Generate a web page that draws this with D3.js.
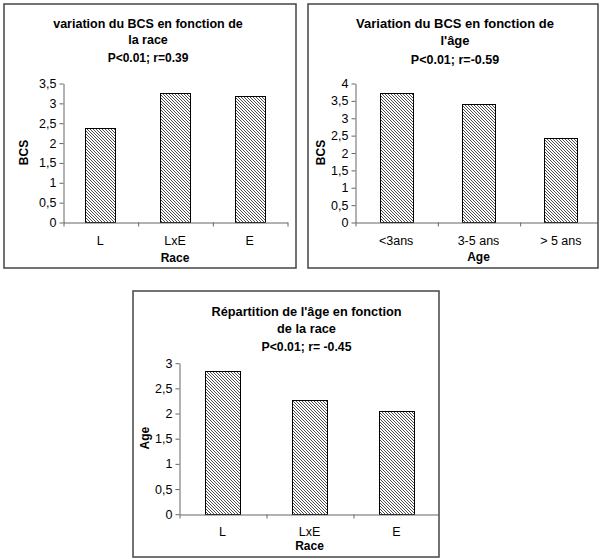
<!DOCTYPE html>
<html>
<head>
<meta charset="utf-8">
<script src="https://cdn.jsdelivr.net/npm/d3@7"></script>
<style>
  body { margin: 0; background: #fff; }
  svg { display: block; font-family: "Liberation Sans", Arial, sans-serif; }
</style>
</head>
<body>
<div id="chart"></div>
<script>
// Data
var raceCats = ["L", "LxE", "E"];
var ageCats = ["<3ans", "3-5 ans", "> 5 ans"];

var bcsByRace = [2.36, 3.24, 3.18];
var bcsByAge = [3.72, 3.40, 2.43];
var ageByRace = [2.84, 2.25, 2.04];

var ticksBcsRace = [0, 0.5, 1, 1.5, 2, 2.5, 3, 3.5];
var ticksBcsAge = [0, 0.5, 1, 1.5, 2, 2.5, 3, 3.5, 4];
var ticksAgeRace = [0, 0.5, 1, 1.5, 2, 2.5, 3];

var title1 = ["variation du BCS en fonction de", "la race", "P<0.01; r=0.39"];
var title2 = ["Variation du BCS en fonction de", "l'âge", "P<0.01; r=-0.59"];
var title3 = ["Répartition de l'âge en fonction", "de la race", "P<0.01; r= -0.45"];

// Layout of each panel (pixel boxes measured on the picture)
var panels = [
  { cats: raceCats, vals: bcsByRace, ticks: ticksBcsRace, title: title1,
    xLab: "Race", yLab: "BCS",
    box: [4, 4, 296, 268], plot: { x0: 63, x1: 287, y0: 222, y1: 83 },
    titleX: 148, titleY: [27.5, 43.5, 61.5], titleSize: 12.5,
    catY: 244.5, xTitleY: 261.5, yTitleX: 24 },
  { cats: ageCats, vals: bcsByAge, ticks: ticksBcsAge, title: title2,
    xLab: "Age", yLab: "BCS",
    box: [308, 4, 598, 268], plot: { x0: 355, x1: 602, y0: 222, y1: 83 },
    titleX: 455, titleY: [27.5, 44.5, 64], titleSize: 13,
    catY: 244.5, xTitleY: 261, yTitleX: 321 },
  { cats: raceCats, vals: ageByRace, ticks: ticksAgeRace, title: title3,
    xLab: "Race", yLab: "Age",
    box: [133, 291, 439, 557], plot: { x0: 179, x1: 440, y0: 513.7, y1: 362.7 },
    titleX: 306.5, titleY: [315.5, 332.5, 350.5], titleSize: 12.75,
    catY: 536, xTitleY: 549.5, yTitleX: 145 }
];

var W = 601, H = 559;
var svg = d3.select("#chart").append("svg")
  .attr("width", W)
  .attr("height", H);

// hatch fill used by every bar (fine downward diagonal)
var defs = svg.append("defs");
var pat = defs.append("pattern")
  .attr("id", "hatch")
  .attr("patternUnits", "userSpaceOnUse")
  .attr("width", 3)
  .attr("height", 3);
pat.append("rect").attr("width", 3).attr("height", 3).attr("fill", "#fff");
pat.append("path")
  .attr("d", "M-1,-1L4,4M-1,2L1,4M2,-1L4,1")
  .attr("stroke", "#3a3a3a")
  .attr("stroke-width", 0.9);

var commaFmt = function(d) { return String(d).replace(".", ","); };

panels.forEach(function(p, i) {
  var b = p.box;

  defs.append("clipPath").attr("id", "clip" + i)
    .append("rect")
      .attr("x", b[0]).attr("y", b[1])
      .attr("width", b[2] - b[0]).attr("height", b[3] - b[1]);

  var g = svg.append("g").attr("clip-path", "url(#clip" + i + ")");

  var x = d3.scaleBand()
    .domain(p.cats)
    .range([p.plot.x0, p.plot.x1])
    .paddingInner(0.6)
    .paddingOuter(0.3);

  var y = d3.scaleLinear()
    .domain([0, d3.max(p.ticks)])
    .range([p.plot.y0, p.plot.y1]);

  // category separators for the x axis tick marks
  var xSep = d3.scaleLinear()
    .domain([0, p.cats.length])
    .range([p.plot.x0, p.plot.x1]);

  // bars
  g.selectAll("rect.bar")
    .data(p.vals)
    .enter()
    .append("rect")
      .attr("class", "bar")
      .attr("x", function(d, j) { return Math.round(x(p.cats[j])) + 0.5; })
      .attr("y", function(d) { return Math.round(y(d)) + 0.5; })
      .attr("width", Math.round(x.bandwidth()))
      .attr("height", function(d) { return Math.round(y(0)) - Math.round(y(d)); })
      .attr("fill", "url(#hatch)")
      .attr("stroke", "#000")
      .attr("stroke-width", 1);

  // y axis
  var yAxis = g.append("g")
    .attr("transform", "translate(" + (Math.round(p.plot.x0) + 0.5) + ",0.5)")
    .call(d3.axisLeft(y).tickValues(p.ticks).tickFormat(commaFmt).tickSize(4).tickSizeOuter(0));
  yAxis.selectAll("text")
    .attr("font-size", 12.5).attr("fill", "#000")
    .attr("font-family", "Liberation Sans, Arial, sans-serif");

  // x axis line + separator ticks
  var xTicks = g.append("g")
    .attr("transform", "translate(0.5," + (Math.round(p.plot.y0) + 0.5) + ")")
    .call(d3.axisBottom(xSep).tickValues(d3.range(p.cats.length + 1)).tickFormat("").tickSize(4).tickSizeOuter(0));

  // category labels
  var xLabels = g.append("g")
    .attr("transform", "translate(0," + p.catY + ")")
    .call(d3.axisBottom(x).tickSize(0).tickPadding(0));
  xLabels.select(".domain").remove();
  xLabels.selectAll("text")
    .attr("dy", 0)
    .attr("font-size", 12.5).attr("fill", "#000")
    .attr("font-family", "Liberation Sans, Arial, sans-serif");

  [yAxis, xTicks].forEach(function(a) {
    a.selectAll(".domain, line").attr("stroke", "#666");
  });

  // titles
  g.selectAll("text.title")
    .data(p.title)
    .enter()
    .append("text")
      .attr("class", "title")
      .attr("x", p.titleX)
      .attr("y", function(d, j) { return p.titleY[j]; })
      .attr("text-anchor", "middle")
      .attr("font-size", function(d, j) { return j < 2 ? p.titleSize : p.titleSize - 0.5; })
      .attr("font-weight", "bold")
      .text(function(d) { return d; });

  g.append("text")
    .attr("x", (p.plot.x0 + p.plot.x1) / 2)
    .attr("y", p.xTitleY)
    .attr("text-anchor", "middle")
    .attr("font-size", 12)
    .attr("font-weight", "bold")
    .text(p.xLab);

  g.append("text")
    .attr("transform", "translate(" + p.yTitleX + "," + (p.plot.y0 + p.plot.y1) / 2 + ") rotate(-90)")
    .attr("dy", "0.35em")
    .attr("text-anchor", "middle")
    .attr("font-size", 12)
    .attr("font-weight", "bold")
    .text(p.yLab);

  // frame
  svg.append("rect")
    .attr("x", b[0]).attr("y", b[1])
    .attr("width", b[2] - b[0]).attr("height", b[3] - b[1])
    .attr("fill", "none")
    .attr("stroke", "#444")
    .attr("stroke-width", 1.5);
});
</script>
</body>
</html>
